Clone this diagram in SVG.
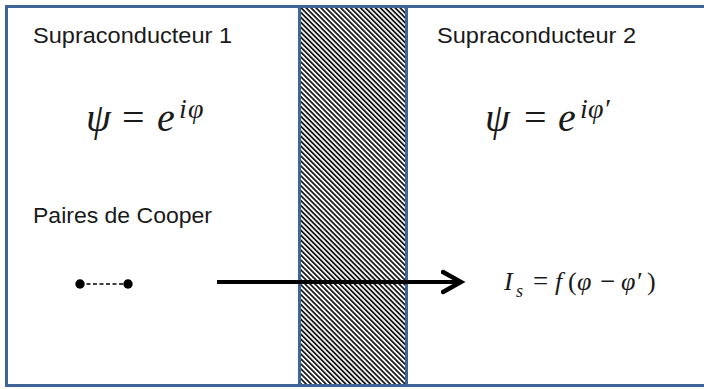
<svg xmlns="http://www.w3.org/2000/svg" width="704" height="389" viewBox="0 0 704 389">
  <defs>
    <pattern id="hatch" patternUnits="userSpaceOnUse" width="3.5" height="3.5" patternTransform="rotate(-45)">
      <rect x="0" y="0" width="3.5" height="3.5" fill="#ffffff"/>
      <rect x="0" y="0" width="1.8" height="3.5" fill="#1a1a1a"/>
    </pattern>
    <marker id="chev" markerUnits="userSpaceOnUse" markerWidth="30" markerHeight="30" refX="20" refY="12" orient="auto" viewBox="0 0 30 24">
      <polyline points="2,2 20,12 2,22" fill="none" stroke="#000" stroke-width="4.4" stroke-linecap="round" stroke-linejoin="miter"/>
    </marker>
    <style>
      .frame{fill:#ffffff;stroke:#3f6597;stroke-width:3}
      .lbl{font-family:"Liberation Sans","Open Sans",sans-serif;font-size:22px;fill:#1a1a1a}
      .math{font-family:"Liberation Serif","DejaVu Serif",serif;font-style:italic;fill:#1a1a1a}
      .up{font-style:normal}
    </style>
  </defs>

  <g id="frame">
    <rect class="frame" x="6.5" y="6.5" width="702" height="379"/>
  </g>

  <g id="barrier">
    <rect x="299.5" y="6.5" width="107" height="379" fill="url(#hatch)" stroke="#3f6597" stroke-width="3"/>
  </g>

  <g id="sc1">
    <text class="lbl" x="33" y="43" textLength="199" lengthAdjust="spacingAndGlyphs">Supraconducteur 1</text>
    <text class="math" y="131" font-size="40"><tspan x="86">ψ</tspan><tspan class="up" font-size="40" x="122">=</tspan><tspan x="157">e</tspan><tspan font-size="28" x="179" y="118">i</tspan><tspan font-size="28" x="188" y="118">φ</tspan></text>
    <text class="lbl" x="33" y="223" textLength="179" lengthAdjust="spacingAndGlyphs">Paires de Cooper</text>
  </g>

  <g id="cooper-pair">
    <line x1="80" y1="284" x2="128" y2="284" stroke="#000" stroke-width="1.6" stroke-dasharray="4,2.5"/>
    <circle cx="80" cy="284" r="4.7" fill="#000"/>
    <circle cx="128" cy="284" r="4.7" fill="#000"/>
  </g>

  <g id="sc2">
    <text class="lbl" x="437" y="43" textLength="199" lengthAdjust="spacingAndGlyphs">Supraconducteur 2</text>
    <text class="math" y="131" font-size="40"><tspan x="485">ψ</tspan><tspan class="up" font-size="40" x="524">=</tspan><tspan x="558">e</tspan><tspan font-size="28" x="580" y="118">i</tspan><tspan font-size="28" x="588" y="118">φ′</tspan></text>
    <text class="math" y="290" font-size="26"><tspan x="504">I</tspan><tspan font-size="18" x="516" y="297">s</tspan><tspan class="up" font-size="27" x="533" y="290">=</tspan><tspan x="555">f</tspan><tspan class="up" x="568">(</tspan><tspan x="577">φ</tspan><tspan class="up" font-size="27" x="600">−</tspan><tspan x="621">φ′</tspan><tspan class="up" x="647">)</tspan></text>
  </g>

  <g id="connectors">
    <line x1="217" y1="282" x2="461" y2="282" stroke="#000" stroke-width="4" marker-end="url(#chev)"/>
  </g>
</svg>
